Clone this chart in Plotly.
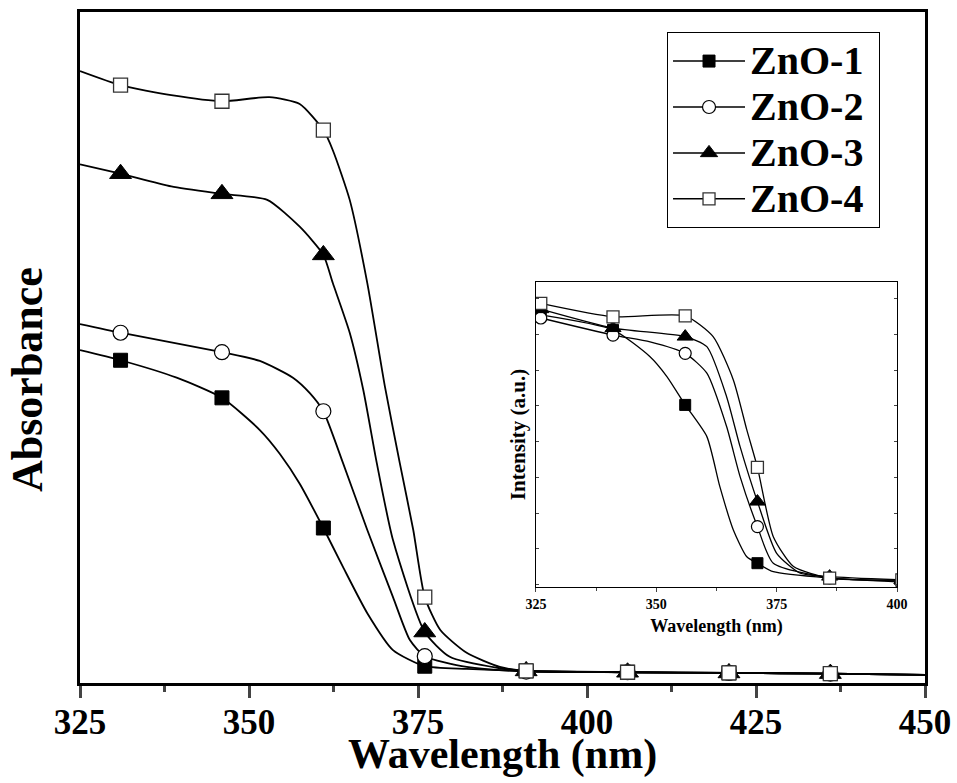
import plotly.graph_objects as go

# ---------------- main panel data (absorbance, arbitrary units) ----------------
marker_wl = [331, 346, 361, 376, 391, 406, 421, 436]

wl_1 = [325, 331, 339.3, 346, 351.6, 354.6, 357.5, 361, 363.9, 367.5, 371.3, 376, 382.2, 391, 406, 421, 436, 450]
abs_1 = [0.496, 0.481, 0.455, 0.425, 0.377, 0.341, 0.297, 0.231, 0.173, 0.104, 0.049, 0.025, 0.021, 0.018, 0.016, 0.015, 0.014, 0.012]

wl_2 = [325, 331, 346, 351.6, 356.5, 359, 361, 363.9, 367.5, 371.3, 373.8, 376, 382.2, 391, 406, 421, 436, 450]
abs_2 = [0.535, 0.522, 0.493, 0.480, 0.455, 0.432, 0.405, 0.328, 0.228, 0.128, 0.064, 0.040, 0.024, 0.017, 0.016, 0.015, 0.014, 0.012]

wl_3 = [325, 331, 338.5, 346, 352.7, 357.5, 361, 362.4, 364.9, 366.9, 368.9, 371.3, 376, 379.7, 387.1, 391, 406, 421, 436, 450]
abs_3 = [0.773, 0.759, 0.740, 0.729, 0.720, 0.680, 0.638, 0.596, 0.522, 0.437, 0.328, 0.213, 0.076, 0.039, 0.022, 0.018, 0.016, 0.015, 0.014, 0.012]

wl_4 = [325, 331, 338.5, 346, 353, 357.5, 361, 362.4, 364.9, 367.5, 370.1, 372.3, 374.3, 376, 378.3, 382.2, 387.1, 391, 406, 421, 436, 450]
abs_4 = [0.912, 0.891, 0.876, 0.867, 0.873, 0.863, 0.824, 0.794, 0.720, 0.596, 0.442, 0.328, 0.228, 0.128, 0.079, 0.045, 0.024, 0.018, 0.016, 0.015, 0.014, 0.012]

# ---------------- inset data (intensity, arbitrary units) ----------------
inset_marker_wl = [326, 341, 356, 371, 386, 401]

iwl_1 = [326, 341, 348.7, 352.2, 356, 360.5, 363.2, 366, 368.8, 371, 374.3, 386, 401]
iint_1 = [0.892, 0.843, 0.755, 0.690, 0.597, 0.493, 0.329, 0.187, 0.099, 0.078, 0.050, 0.029, 0.016]

iwl_2 = [326, 341, 348.7, 356, 360.5, 364.6, 367.4, 371, 374.3, 386, 401]
iint_2 = [0.882, 0.826, 0.804, 0.766, 0.701, 0.526, 0.362, 0.198, 0.078, 0.030, 0.020]

iwl_3 = [326, 341, 356, 360.5, 364.6, 367.4, 371, 375, 379.9, 386, 401]
iint_3 = [0.911, 0.849, 0.821, 0.788, 0.624, 0.460, 0.280, 0.110, 0.045, 0.034, 0.023]

iwl_4 = [326, 341, 356, 361.8, 366, 368.8, 371, 374.3, 378.5, 386, 401]
iint_4 = [0.930, 0.886, 0.889, 0.821, 0.679, 0.515, 0.392, 0.165, 0.067, 0.029, 0.023]

names = ["ZnO-1", "ZnO-2", "ZnO-3", "ZnO-4"]
main_x_ticks = [325, 350, 375, 400, 425, 450]
inset_x_ticks = [325, 350, 375, 400]

FONT = "Liberation Serif"

styles = [
    dict(symbol="square", color="black", line=dict(color="black", width=1)),
    dict(symbol="circle", color="white", line=dict(color="black", width=1.2)),
    dict(symbol="triangle-up", color="black", line=dict(color="black", width=1)),
    dict(symbol="square", color="white", line=dict(color="#333333", width=1.3)),
]
main_sizes = [14, 15, 19, 14]
inset_sizes = [11, 12, 14, 12]

main_sets = [(wl_1, abs_1), (wl_2, abs_2), (wl_3, abs_3), (wl_4, abs_4)]
inset_sets = [(iwl_1, iint_1), (iwl_2, iint_2), (iwl_3, iint_3), (iwl_4, iint_4)]

fig = go.Figure()

for i, ((wx, wy), st) in enumerate(zip(main_sets, styles)):
    fig.add_trace(go.Scatter(x=wx, y=wy, mode="lines",
                             line=dict(color="black", width=1.8, shape="spline", smoothing=0.6),
                             showlegend=False, hoverinfo="skip"))
    mx = [x for x in wx if x in marker_wl]
    my = [y for x, y in zip(wx, wy) if x in marker_wl]
    fig.add_trace(go.Scatter(x=mx, y=my, mode="markers", showlegend=False,
                             marker=dict(size=main_sizes[i], **st)))

for i, ((wx, wy), st) in enumerate(zip(inset_sets, styles)):
    fig.add_trace(go.Scatter(x=wx, y=wy, mode="lines", xaxis="x2", yaxis="y2",
                             line=dict(color="black", width=1.3, shape="spline", smoothing=0.6),
                             showlegend=False, hoverinfo="skip"))
    mx = [x for x in wx if x in inset_marker_wl]
    my = [y for x, y in zip(wx, wy) if x in inset_marker_wl]
    fig.add_trace(go.Scatter(x=mx, y=my, mode="markers", xaxis="x2", yaxis="y2", showlegend=False,
                             marker=dict(size=inset_sizes[i], **st)))

# legend entries
legend_sizes = [12, 13, 15, 12]
for i, (nm, st) in enumerate(zip(names, styles)):
    fig.add_trace(go.Scatter(x=[None], y=[None], mode="lines+markers",
                             name="<span style='font-size:40px'>" + nm + "&nbsp;</span>",
                             line=dict(color="black", width=1.5),
                             marker=dict(size=legend_sizes[i], **st)))

fig.update_layout(
    width=957, height=783,
    margin=dict(l=80, r=32, t=12, b=100),
    paper_bgcolor="white", plot_bgcolor="white",
    font=dict(family=FONT, color="black"),
    showlegend=True,
    legend=dict(x=0.6947, y=0.970, xanchor="left", yanchor="top",
                bordercolor="black", borderwidth=1, bgcolor="white",
                font=dict(family=FONT, size=33, color="black", weight="bold"),
                itemwidth=72, tracegroupgap=0),
    xaxis=dict(range=[325, 450], tickvals=main_x_ticks, ticks="outside", ticklen=12, tickwidth=2.5,
               minor=dict(dtick=12.5, tick0=325, ticks="outside", ticklen=6, tickwidth=2.5),
               showline=True, linewidth=2.5, linecolor="black", mirror=True, automargin=False,
               showgrid=False, zeroline=False, ticklabelstandoff=-6,
               tickfont=dict(family=FONT, size=35, color="black", weight="bold")),
    yaxis=dict(range=[0, 1], showticklabels=False, ticks="", showline=True, linewidth=2.5,
               linecolor="black", mirror=True, showgrid=False, zeroline=False, automargin=False),
    xaxis2=dict(domain=[0.5396, 0.9669], anchor="y2", range=[325, 400], tickvals=inset_x_ticks,
                ticks="outside", ticklen=4, tickwidth=1, automargin=False,
                minor=dict(dtick=12.5, tick0=325, ticks="outside", ticklen=3, tickwidth=1),
                showline=True, linewidth=1.2, linecolor="black", mirror=True,
                showgrid=False, zeroline=False,
                tickfont=dict(family=FONT, size=14, color="black", weight="bold"),
                title=dict(text="Wavelength (nm)", standoff=8,
                           font=dict(family=FONT, size=18, color="black", weight="bold"))),
    yaxis2=dict(domain=[0.1431, 0.5976], anchor="x2", range=[0, 1], showticklabels=False,
                ticks="inside", ticklen=3, tick0=0.0085, dtick=0.117, automargin=False,
                showline=True, linewidth=1.2, linecolor="black", mirror="ticks",
                showgrid=False, zeroline=False,
                title=dict(text="Intensity (a.u.)", standoff=3,
                           font=dict(family=FONT, size=21, color="black", weight="bold"))),
    annotations=[
        dict(text="<b>Wavelength (nm)</b>", xref="paper", yref="paper", x=0.5, y=-0.1073,
             xanchor="center", yanchor="middle", showarrow=False,
             font=dict(family=FONT, size=42, color="black")),
        dict(text="<b>Absorbance</b>", xref="paper", yref="paper", x=-0.0615, y=0.4516,
             xanchor="center", yanchor="middle", showarrow=False, textangle=-90,
             font=dict(family=FONT, size=44, color="black")),
    ],
)

fig.write_html("out.html")
